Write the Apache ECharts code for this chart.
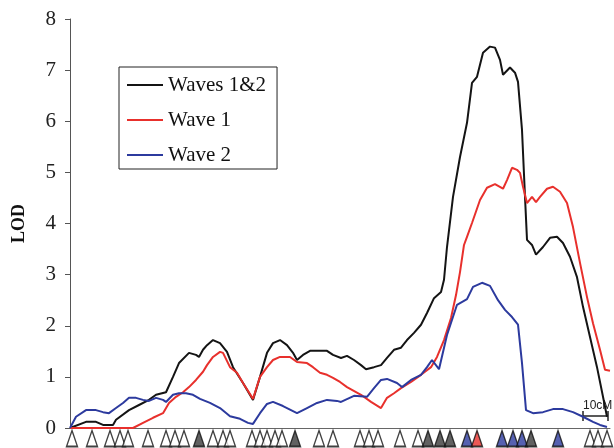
<!DOCTYPE html>
<html>
<head>
<meta charset="utf-8">
<title>LOD</title>
<script type="text/javascript" src="https://cdn.jsdelivr.net/npm/echarts@6/dist/echarts.min.js"></script>
<style>
	html, body { margin: 0; padding: 0; background: #fff; }
	#main { width: 614px; height: 448px; }
</style>
</head>
<body>
<div id="main"></div>
<script type="text/javascript">
	// positions in cM, LOD values
	var bothCM = [0, 6.4, 10.4, 13.2, 17.2, 18.4, 23.6, 27.6, 31.6, 34.4, 38.4, 41.2, 43.6, 47.6, 50.4, 51.6, 53.2, 54.8, 57.2, 60, 62.8, 65.2, 69.2, 73.2, 76, 78.8, 81.2, 84, 86.8, 89.2, 90.8, 93.2, 96, 100, 102.8, 105.2, 108.4, 110.8, 113.6, 116.4, 118.4, 121.6, 124.4, 126.8, 129.6, 132.4, 134.8, 137.6, 140.4, 142.8, 145.6, 148.4, 149.6, 150.8, 153.2, 156, 158.8, 160.8, 162.8, 165.2, 168, 170, 172, 173.2, 176, 178, 179.2, 180.8, 182, 182.8, 184.8, 186.4, 189.2, 192, 194.8, 197.2, 200, 202.8, 205.2, 208, 210.8, 213.2, 214.8];
	var bothLOD = [0, 0.12, 0.12, 0.06, 0.06, 0.16, 0.35, 0.45, 0.55, 0.65, 0.70, 1.00, 1.27, 1.47, 1.43, 1.39, 1.53, 1.62, 1.72, 1.66, 1.49, 1.19, 0.88, 0.55, 1.00, 1.47, 1.66, 1.72, 1.62, 1.47, 1.33, 1.43, 1.51, 1.51, 1.51, 1.43, 1.37, 1.41, 1.33, 1.23, 1.15, 1.19, 1.23, 1.37, 1.53, 1.57, 1.72, 1.86, 2.02, 2.25, 2.54, 2.66, 2.90, 3.54, 4.52, 5.30, 5.97, 6.75, 6.87, 7.34, 7.46, 7.44, 7.20, 6.91, 7.05, 6.95, 6.77, 5.83, 4.52, 3.68, 3.58, 3.39, 3.54, 3.72, 3.74, 3.62, 3.35, 2.95, 2.37, 1.78, 1.19, 0.61, 0.22];

	var wave1CM = [0, 25.2, 29.2, 33.2, 37.2, 39.6, 42.4, 45.2, 47.6, 50.4, 53.2, 54.8, 57.2, 60, 61.2, 64, 66.8, 69.2, 73.2, 76, 78.8, 81.2, 84, 88, 90.8, 94.8, 97.2, 100, 102.8, 105.2, 108, 110.8, 116.4, 120.4, 124.4, 126.8, 129.6, 132.4, 136.4, 140.4, 144.4, 146.8, 149.6, 152.4, 154.4, 156, 157.6, 158.8, 160.8, 164, 166.8, 170, 173.2, 174.8, 176.8, 178.8, 180, 181.2, 182.8, 184.8, 186.4, 188, 190.8, 193.2, 196, 198.8, 201.2, 204, 206.8, 209.2, 212, 214, 216];
	var wave1LOD = [0, 0, 0.10, 0.20, 0.29, 0.49, 0.61, 0.70, 0.80, 0.94, 1.10, 1.23, 1.39, 1.49, 1.47, 1.19, 1.08, 0.88, 0.57, 1.00, 1.19, 1.33, 1.39, 1.39, 1.29, 1.27, 1.19, 1.08, 1.04, 0.98, 0.90, 0.80, 0.65, 0.51, 0.39, 0.59, 0.68, 0.78, 0.90, 1.04, 1.19, 1.39, 1.72, 2.15, 2.60, 3.05, 3.58, 3.74, 4.01, 4.46, 4.70, 4.77, 4.68, 4.85, 5.09, 5.05, 4.99, 4.72, 4.40, 4.52, 4.42, 4.52, 4.68, 4.72, 4.62, 4.40, 3.93, 3.23, 2.56, 2.05, 1.53, 1.14, 1.12];

	var wave2CM = [0, 2.4, 6.4, 10.4, 13.2, 15.6, 18.4, 21.2, 23.6, 26.4, 29.2, 31.6, 34.4, 37.2, 38.4, 41.2, 43.6, 46.4, 49.2, 52, 56, 60, 64, 68, 71.2, 73.2, 76, 78.8, 81.2, 85.2, 90.8, 94.8, 98.8, 102.8, 106.8, 108.4, 113.6, 118.8, 121.6, 124.4, 126.8, 130.8, 132.8, 136.4, 140.4, 142.8, 144.8, 147.6, 150.8, 154.8, 158.8, 161.2, 164.8, 168, 171.2, 174, 176.8, 179.2, 180.8, 182.4, 185.2, 189.2, 193.2, 197.2, 201.2, 205.2, 209.2, 212, 214.8];
	var wave2LOD = [0, 0.22, 0.35, 0.35, 0.31, 0.29, 0.39, 0.49, 0.59, 0.59, 0.55, 0.53, 0.59, 0.55, 0.51, 0.65, 0.68, 0.68, 0.65, 0.57, 0.49, 0.39, 0.23, 0.18, 0.10, 0.08, 0.29, 0.47, 0.51, 0.43, 0.29, 0.39, 0.49, 0.55, 0.53, 0.51, 0.63, 0.61, 0.78, 0.94, 0.96, 0.88, 0.80, 0.94, 1.04, 1.19, 1.33, 1.15, 1.82, 2.41, 2.52, 2.76, 2.84, 2.78, 2.50, 2.31, 2.17, 2.02, 1.27, 0.35, 0.29, 0.31, 0.37, 0.37, 0.31, 0.22, 0.12, 0.06, 0.02];

	// marker positions (cM) and kind: o = open, d = dark, b = blue, r = red
	var markerCM = [0.8, 8.8, 16, 20, 23.2, 31.2, 38.4, 42, 45.6, 51.6, 57.2, 61.2, 64, 72.8, 76, 78.8, 82, 84.8, 90, 99.6, 105.2, 116, 119.6, 123.2, 132, 139.2, 143.2, 148, 152, 158.8, 162.8, 172.8, 177.2, 180.8, 184.4, 195.2, 208, 211.2, 214.8];
	var markerKind = ['o', 'o', 'o', 'o', 'o', 'o', 'o', 'o', 'o', 'd', 'o', 'o', 'o', 'o', 'o', 'o', 'o', 'o', 'd', 'o', 'o', 'o', 'o', 'o', 'o', 'o', 'd', 'd', 'd', 'b', 'r', 'b', 'b', 'b', 'd', 'b', 'o', 'o', 'o'];

	var yTicks = [0, 1, 2, 3, 4, 5, 6, 7, 8];

	var kindColor = { o: '#ffffff', d: '#3a3a3a', b: '#2c3a9e', r: '#e8302c' };

	function zip(a, b) {
		var out = [];
		for (var i = 0; i < a.length; i++) out.push([a[i], b[i]]);
		return out;
	}

	var markerData = [];
	for (var i = 0; i < markerCM.length; i++) {
		markerData.push({
			value: [markerCM[i], 0.5],
			itemStyle: { color: kindColor[markerKind[i]] }
		});
	}

	var serif = '"Liberation Serif", "Times New Roman", serif';

	var myChart = echarts.init(document.getElementById('main'));
	var option = {
		animation: false,
		backgroundColor: '#fff',
		grid: [
			{ left: 70, right: 4, top: 19, bottom: 20 },
			{ left: 70, right: 4, top: 430, height: 17 }
		],
		legend: {
			orient: 'vertical',
			left: 119,
			top: 67,
			data: ['Waves 1&2', 'Wave 1', 'Wave 2'],
			icon: 'rect',
			itemWidth: 36,
			itemHeight: 2,
			itemGap: 11,
			padding: [6, 11, 2, 8],
			borderColor: '#222',
			borderWidth: 1,
			textStyle: { fontFamily: serif, fontSize: 21, color: '#111', lineHeight: 24 }
		},
		xAxis: [{
			type: 'value',
			gridIndex: 0,
			min: 0,
			max: 216,
			axisLine: { show: true, onZero: false, lineStyle: { color: '#666', width: 1 } },
			axisTick: { show: false },
			axisLabel: { show: false },
			splitLine: { show: false }
		}, {
			type: 'value',
			gridIndex: 1,
			min: 0,
			max: 216,
			show: false
		}],
		yAxis: [{
			type: 'value',
			gridIndex: 0,
			min: 0,
			max: 8,
			interval: 1,
			name: 'LOD',
			nameLocation: 'middle',
			nameGap: 42,
			nameRotate: 90,
			nameTextStyle: { fontFamily: serif, fontSize: 18, fontWeight: 'bold', color: '#111' },
			axisLine: { show: true, lineStyle: { color: '#555', width: 1 } },
			axisTick: { show: true, length: 5, lineStyle: { color: '#555' } },
			axisLabel: {
				margin: 14,
				fontFamily: serif,
				fontSize: 21,
				color: '#222',
				formatter: function (v) { return yTicks.indexOf(v) >= 0 ? String(v) : ''; }
			},
			splitLine: { show: false }
		}, {
			type: 'value',
			gridIndex: 1,
			min: 0,
			max: 1,
			show: false
		}],
		series: [{
			name: 'Waves 1&2',
			type: 'line',
			symbol: 'none',
			color: '#141414',
			lineStyle: { width: 2, color: '#141414' },
			data: zip(bothCM, bothLOD)
		}, {
			name: 'Wave 1',
			type: 'line',
			symbol: 'none',
			color: '#e8302c',
			lineStyle: { width: 2, color: '#e8302c' },
			data: zip(wave1CM, wave1LOD)
		}, {
			name: 'Wave 2',
			type: 'line',
			symbol: 'none',
			color: '#2c3a9e',
			lineStyle: { width: 2, color: '#2c3a9e' },
			data: zip(wave2CM, wave2LOD)
		}, {
			name: 'markers',
			type: 'scatter',
			xAxisIndex: 1,
			yAxisIndex: 1,
			symbol: 'triangle',
			symbolSize: [11, 16],
			itemStyle: { borderColor: '#111', borderWidth: 1.5 },
			data: markerData
		}],
		graphic: [{
			type: 'group',
			x: 583,
			y: 400,
			children: [
				{ type: 'text', x: 0, y: 0, style: { text: '10cM', font: '12px "Liberation Sans", sans-serif', fill: '#222' } },
				{ type: 'line', shape: { x1: 0, y1: 16, x2: 25, y2: 16 }, style: { stroke: '#222', lineWidth: 1.5 } },
				{ type: 'line', shape: { x1: 0, y1: 11, x2: 0, y2: 21 }, style: { stroke: '#222', lineWidth: 1.5 } },
				{ type: 'line', shape: { x1: 25, y1: 11, x2: 25, y2: 21 }, style: { stroke: '#222', lineWidth: 1.5 } }
			]
		}]
	};
	myChart.setOption(option);
</script>
</body>
</html>
